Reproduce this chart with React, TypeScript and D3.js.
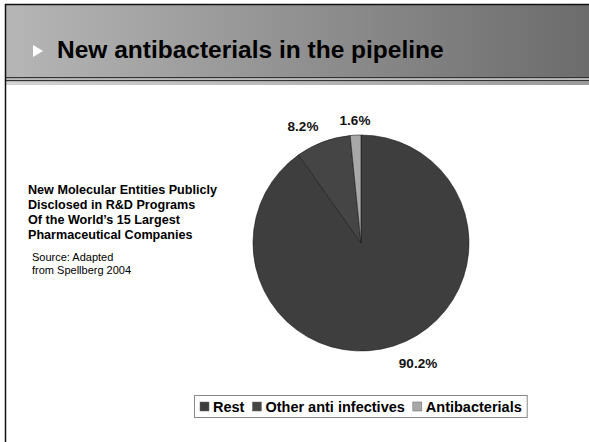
import React from "react";
import * as d3 from "d3";

// Pie data: share of new molecular entities by category
const categories = ["Rest", "Other anti infectives", "Antibacterials"];
const shares = [90.2, 8.2, 1.6];
const sliceColors = ["#3e3e3e", "#454545", "#a8a8a8"];

const noteLines = [
  "New Molecular Entities Publicly",
  "Disclosed in R&D Programs",
  "Of the World\u2019s 15 Largest",
  "Pharmaceutical Companies",
];
const sourceLines = ["Source: Adapted", "from Spellberg 2004"];

const W = 589;
const H = 442;
const cx = 361;
const cy = 243;
const radius = 108;
const FONT = "Arial, 'Liberation Sans', sans-serif";

export default function App() {
  const pie = d3
    .pie<number>()
    .sort(null)
    .startAngle(0)
    .endAngle(2 * Math.PI)
    .value((d) => d);
  const arcs = pie(shares);
  const arcGen = d3.arc<d3.PieArcDatum<number>>().innerRadius(0).outerRadius(radius);

  // label positions outside the pie
  const labelPos = [
    { x: cx + 57, y: cy + 125 },
    { x: cx - 58, y: cy - 112 },
    { x: cx - 6, y: cy - 118 },
  ];

  const legendSize = 14.5;
  const measure = (t: string) => {
    const ctx = document.createElement("canvas").getContext("2d");
    if (!ctx) return t.length * 8;
    ctx.font = `bold ${legendSize}px ${FONT}`;
    return ctx.measureText(t).width;
  };
  let lx = 200;
  const legendLayout = categories.map((c, i) => {
    const item = { c, color: sliceColors[i], x: lx };
    lx += 9 + 4 + measure(c) + 8;
    return item;
  });
  const legendRight = lx - 3;

  return (
    <svg
      width={W}
      height={H}
      style={{ position: "absolute", left: 0, top: 0, background: "#fff" }}
      fontFamily={FONT}
    >
      <defs>
        <linearGradient id="hdr" x1="0" x2="1" y1="0" y2="0">
          <stop offset="0" stopColor="#b6b6b6" />
          <stop offset="1" stopColor="#6c6c6c" />
        </linearGradient>
        <linearGradient id="band" x1="0" x2="1" y1="0" y2="0">
          <stop offset="0" stopColor="#d4d4d4" />
          <stop offset="1" stopColor="#9a9a9a" />
        </linearGradient>
      </defs>

      {/* header */}
      <rect x={5} y={4} width={W - 5} height={73} fill="url(#hdr)" />
      <line x1={5} x2={W} y1={4.5} y2={4.5} stroke="#111" strokeWidth={1.5} />
      <rect x={5} y={77} width={W - 5} height={1.5} fill="#333" />
      <rect x={5} y={78.5} width={W - 5} height={1.5} fill="#bbb" />
      <rect x={5} y={80} width={W - 5} height={1.5} fill="#333" />
      <rect x={5} y={81.5} width={W - 5} height={3.5} fill="url(#band)" />
      <line x1={5.5} x2={5.5} y1={4} y2={H} stroke="#111" strokeWidth={1.5} />

      <path d="M33,45 L43,51 L33,57 Z" fill="#fff" />
      <text x={57} y={58} fontSize={24.5} fontWeight="bold" fill="#000">
        New antibacterials in the pipeline
      </text>

      {/* side note */}
      {noteLines.map((t, i) => (
        <text key={t} x={28} y={193.5 + i * 15.3} fontSize={12.6} fontWeight="bold" fill="#000">
          {t}
        </text>
      ))}
      {sourceLines.map((t, i) => (
        <text key={t} x={32} y={261 + i * 13} fontSize={11} fill="#000">
          {t}
        </text>
      ))}

      {/* pie */}
      <g transform={`translate(${cx},${cy})`}>
        {arcs.map((a, i) => (
          <path key={categories[i]} d={arcGen(a) || ""} fill={sliceColors[i]} stroke="#1a1a1a" strokeWidth={0.6} />
        ))}
      </g>
      {arcs.map((a, i) => (
        <text
          key={"l" + i}
          x={labelPos[i].x}
          y={labelPos[i].y}
          textAnchor="middle"
          fontSize={13.5}
          fontWeight="bold"
          fill="#111"
        >
          {`${shares[i].toFixed(1)}%`}
        </text>
      ))}

      {/* legend */}
      <rect x={194.5} y={395.5} width={legendRight - 194} height={22} fill="#fff" stroke="#888" />
      {legendLayout.map((it) => (
        <g key={it.c}>
          <rect x={it.x} y={402} width={9} height={9} fill={it.color} stroke="#666" strokeWidth={0.5} />
          <text x={it.x + 13} y={411.5} fontSize={legendSize} fontWeight="bold" fill="#000">
            {it.c}
          </text>
        </g>
      ))}
    </svg>
  );
}
